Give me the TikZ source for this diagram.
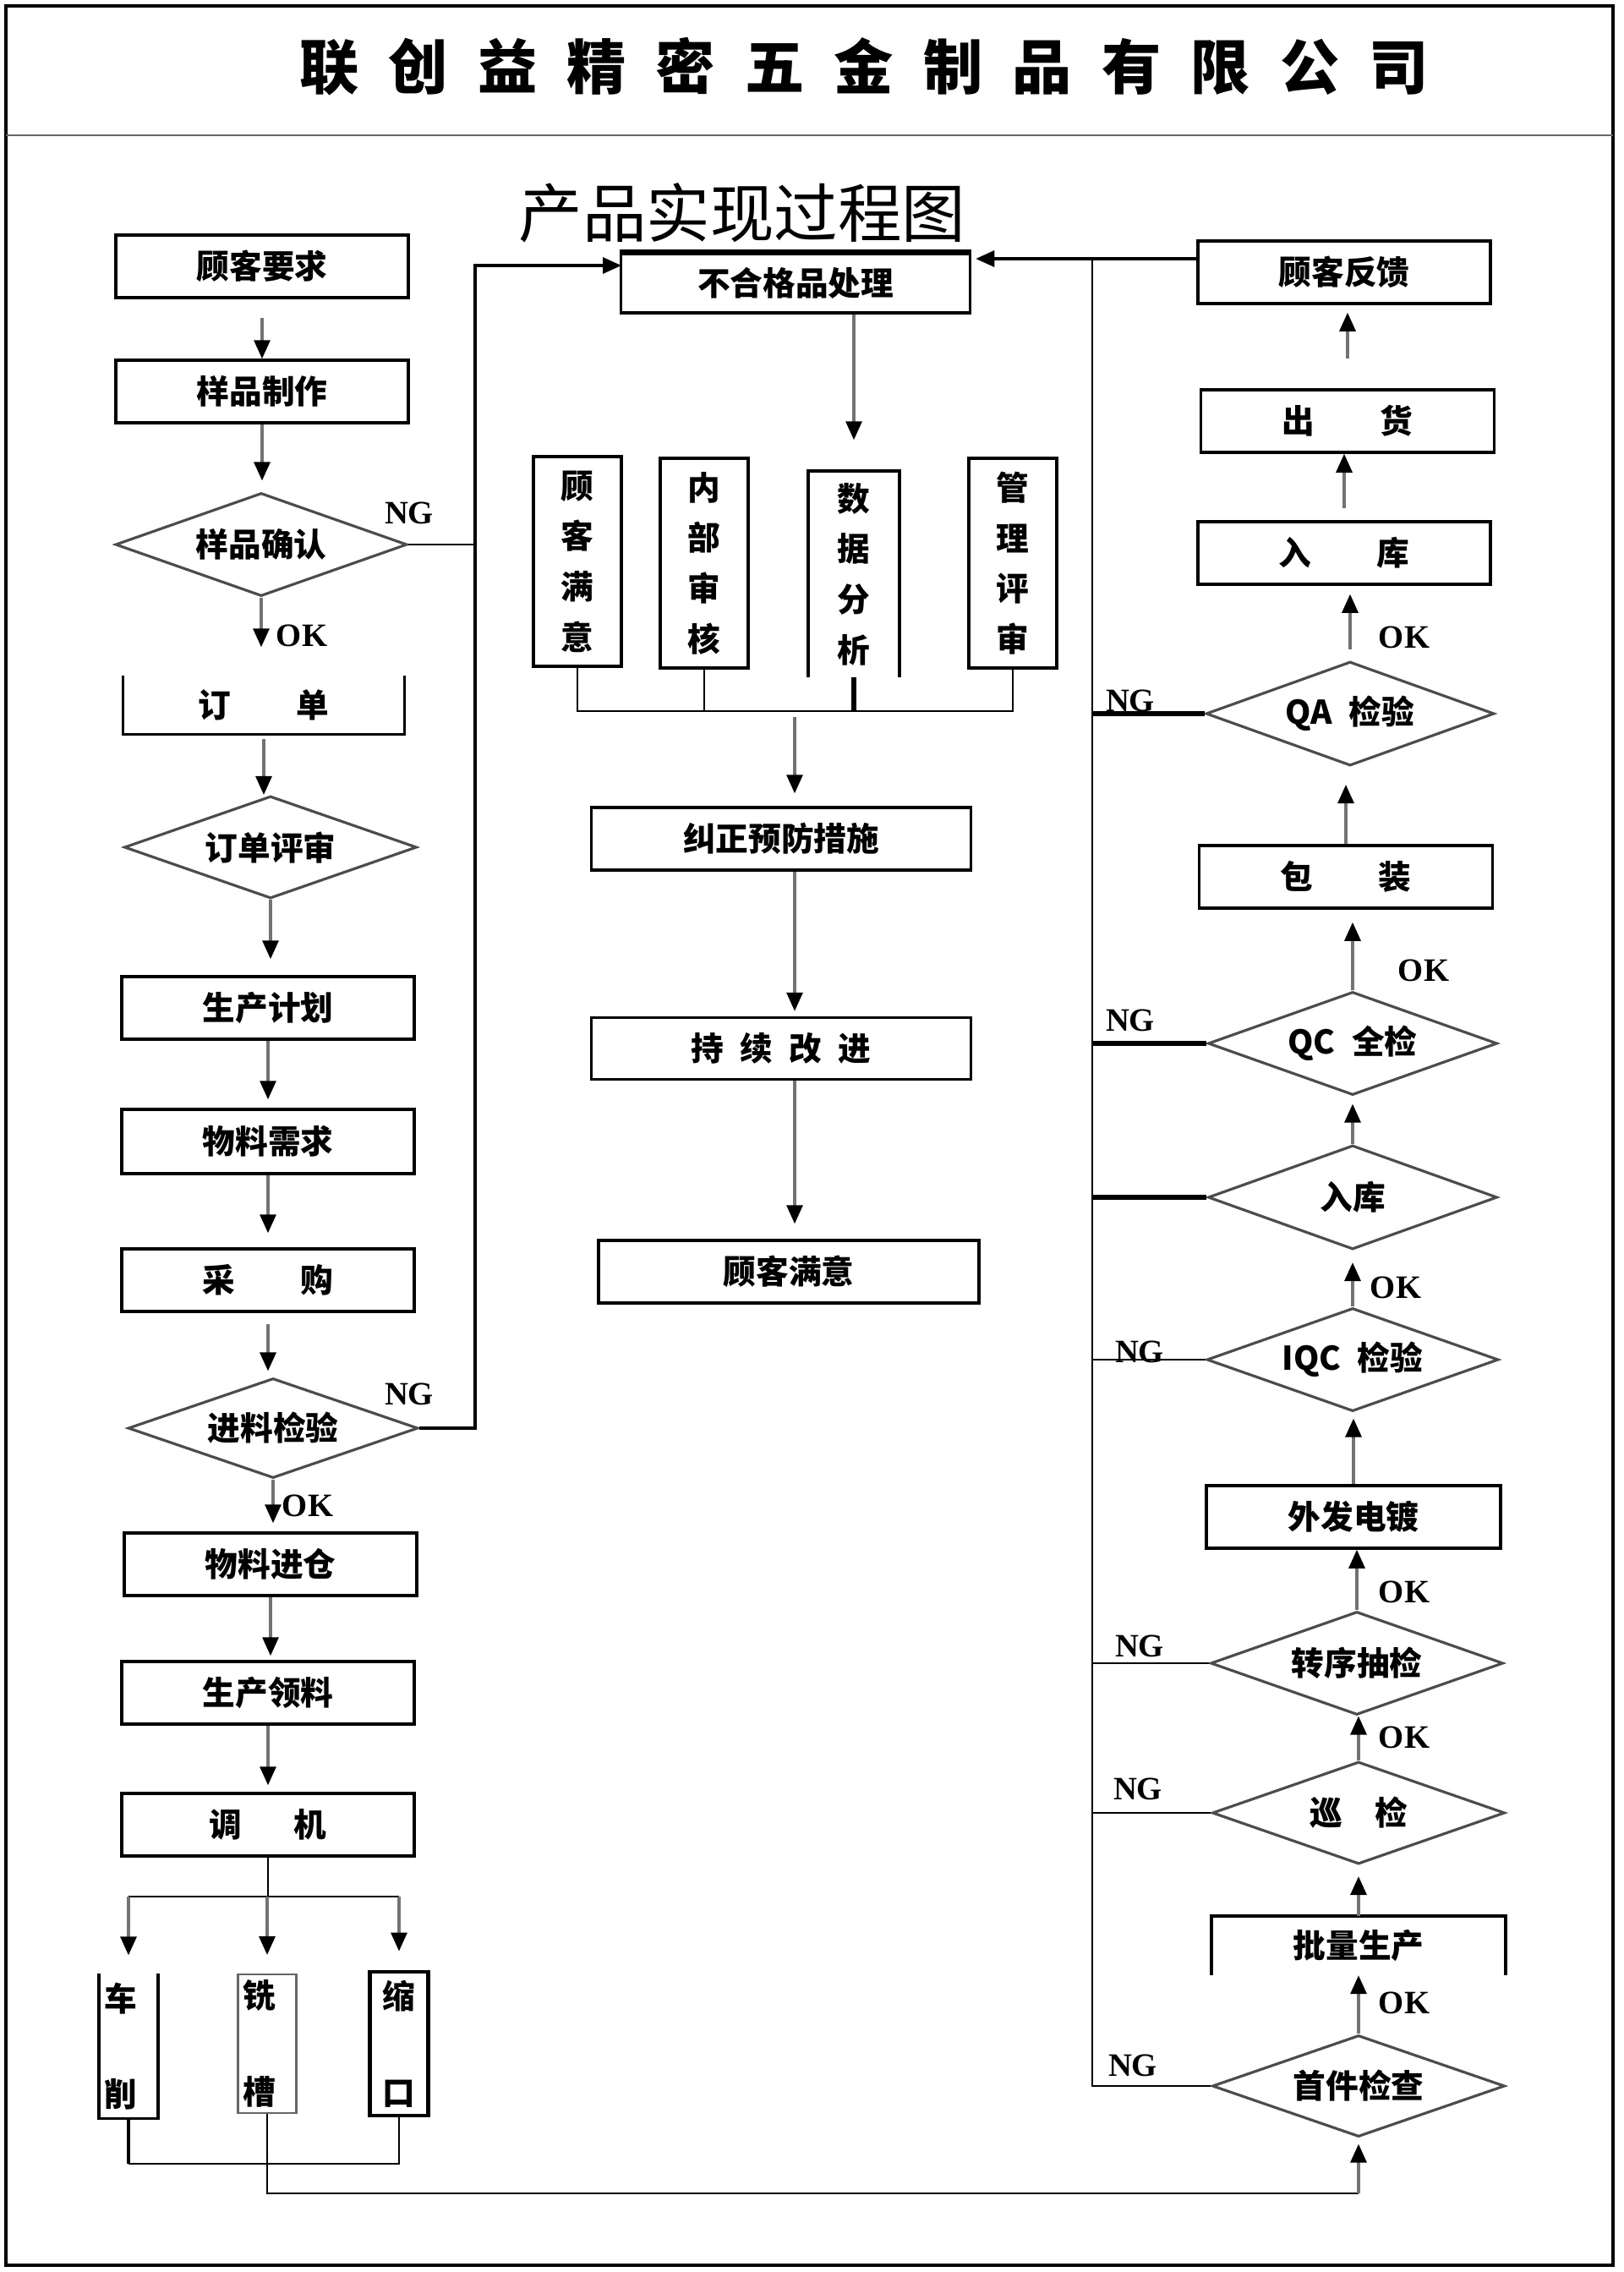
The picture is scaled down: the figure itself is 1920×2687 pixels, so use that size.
\documentclass[tikz,border=0pt]{standalone}
\usepackage{fontspec}
\setmainfont{Liberation Serif}
\newfontfamily\cjk{Noto Sans CJK SC}[BoldFont={Noto Sans CJK SC Black}]
\usetikzlibrary{shapes.geometric,arrows.meta}
\newcommand{\wgap}[1][.5em]{\hspace{#1}}

\begin{document}
\begin{tikzpicture}[x=0.1mm, y=-0.1mm,
    every node/.style={font=\cjk\bfseries\fontsize{11}{13}\selectfont, inner sep=0pt},
    box/.style={draw, line width=1pt, minimum width=34.6mm, minimum height=7.4mm},
    dia/.style={diamond, aspect=2.8, draw=black!70, line width=0.9pt, minimum width=34.5mm, minimum height=12.2mm},
    vbox/.style={draw, line width=1pt, minimum width=10.4mm, minimum height=24.8mm, align=center, font=\cjk\bfseries\fontsize{11}{17}\selectfont},
    tool/.style={minimum height=17mm, text width=5.8mm, inner xsep=0.55mm, align=left, font=\cjk\bfseries\fontsize{11}{32.4}\selectfont},
    arr/.style={draw=black!55, line width=0.9pt, -{Triangle[width=1.9mm, length=2.2mm, color=black]}},
    arrk/.style={arr, draw=black},
    lnk/.style={line width=0.7pt},
    ngk/.style={line width=1.5pt},
    tag/.style={font=\rmfamily\bfseries\fontsize{11}{13}\selectfont}]
  \useasboundingbox (0,0) rectangle (1920,2687);
  \draw[line width=1.2pt] (7,7) rectangle (1908,2679);
  \draw[line width=0.6pt, black!60] (7,160) -- (1908,160);
  \node[font=\cjk\bfseries\fontsize{20}{24}\selectfont] (firm) at (1022,79) {联\wgap 创\wgap 益\wgap 精\wgap 密\wgap 五\wgap 金\wgap 制\wgap 品\wgap 有\wgap 限\wgap 公\wgap 司};
  \node[font=\cjk\fontsize{21.5}{26}\selectfont] (title) at (878,252) {产品实现过程图};

  \node[box] (req) at (310,315) {顾客要求};
  \node[box] (smp) at (310,463) {样品制作};
  \node[dia] (cfm) at (309,644) {样品确认};
  \node[minimum width=33.2mm, minimum height=6.8mm] (ord) at (312,834) {订\wgap[2em]单};
  \draw[line width=1pt] (ord.north west) |- (ord.south east) -- (ord.north east);
  \node[dia, minimum width=34.6mm, minimum height=12.1mm] (rev) at (320,1002) {订单评审};
  \node[box] (plan) at (317,1192) {生产计划};
  \node[box, minimum height=7.6mm] (mrq) at (317,1350) {物料需求};
  \node[box] (buy) at (317,1514) {采\wgap[2em]购};
  \node[dia, minimum width=34.3mm, minimum height=11.8mm] (inc) at (323,1689) {进料检验};
  \node[box] (whs) at (320,1850) {物料进仓};
  \node[box] (pick) at (317,2002) {生产领料};
  \node[box] (tune) at (317,2158) {调\wgap[1.6em]机};
  \node[tool] (turn) at (152,2420) {车\\削};
  \draw[line width=1pt] (turn.north west) |- (turn.south east) -- (turn.north east);
  \node[tool, draw=black!60, line width=0.6pt, minimum height=16.4mm] (mill) at (316,2417) {铣\\槽};
  \node[tool, draw, line width=1.4pt, align=center] (neck) at (472,2417) {缩\\口};

  \draw[arr, shorten <=2.2mm] (req.south) -- (req.south |- smp.north);
  \draw[arr, shorten >=1.3mm] (smp.south) -- (smp.south |- cfm.north);
  \draw[arr, shorten >=3.4mm] (cfm.south) -- (cfm.south |- ord.north);
  \draw[arr, shorten <=0.5mm] (ord.south) -- (ord.south |- rev.north);
  \draw[arr, shorten >=1.9mm] (rev.south) -- (rev.south |- plan.north);
  \draw[arr, shorten >=1mm] (plan.south) -- (plan.south |- mrq.north);
  \draw[arr, shorten >=1.7mm] (mrq.south) -- (mrq.south |- buy.north);
  \draw[arr, shorten <=1.3mm, shorten >=0.7mm] (buy.south) -- (buy.south |- inc.north);
  \draw[arr, shorten >=1mm] (inc.south) -- (inc.south |- whs.north);
  \draw[arr, shorten >=0.5mm] (whs.south) -- (whs.south |- pick.north);
  \draw[arr, shorten >=0.8mm] (pick.south) -- (pick.south |- tune.north);
  \draw[lnk] (tune.south) -- ++(0,46) coordinate (fork);
  \draw[lnk] (turn.north |- fork) -- (neck.north |- fork);
  \foreach \n in {turn,mill,neck}
    \draw[arr, shorten >=2.2mm] (\n.north |- fork) -- (\n.north);
  \draw[line width=1.4pt] (turn.south) -- ++(0,53) coordinate (join);
  \draw[lnk] (join) -| (neck.south);
  \coordinate (base) at (1607,2594);
  \draw[lnk] (mill.south) |- (base);

  \coordinate (lp) at (562,314);
  \draw[arrk] (inc.east) -| (lp) -- (lp -| 735,0);
  \draw[lnk] (cfm.east) -- (cfm.east -| lp);
  \node[tag] (ng1) at (484,607) {NG};
  \node[tag] (ng2) at (484,1649) {NG};
  \node[tag] (ok1) at (357,752) {OK};
  \node[tag] (ok2) at (364,1781) {OK};

  \node[box, minimum width=41.3mm, minimum height=7mm] (ncp) at (941,335) {不合格品处理};
  \draw[line width=2pt] (ncp.north west) -- (ncp.north east);
  \node[vbox] (csat) at (683,664) {顾\\客\\满\\意};
  \node[vbox] (audit) at (833,666) {内\\部\\审\\核};
  \node[vbox, draw=none, minimum height=24mm] (data) at (1010,679) {数\\据\\分\\析};
  \draw[line width=1pt] (data.south west) |- (data.north east) -- (data.south east);
  \node[vbox] (mgmt) at (1198,666) {管\\理\\评\\审};
  \draw[arr, shorten >=3.7mm] (ncp.south -| data) -- (data.north);
  \coordinate (bus) at (940,841);
  \draw[lnk] (csat.south) -- (csat.south |- bus) -- (mgmt.south |- bus) -- (mgmt.south);
  \draw[lnk] (audit.south) -- (audit.south |- bus);
  \draw[line width=1.5pt] (data.south) -- (data.south |- bus);
  \node[box, minimum width=44.9mm] (cap) at (924,992) {纠正预防措施};
  \node[box, minimum width=44.9mm, minimum height=7.3mm] (imp) at (924,1240) {持\wgap 续\wgap 改\wgap 进};
  \node[box, minimum width=45mm] (sat) at (933,1504) {顾客满意};
  \draw[arr, shorten <=0.7mm, shorten >=1.5mm] (bus) -- (bus |- cap.north);
  \draw[arr, shorten >=0.6mm] (cap.south -| bus) -- (imp.north -| bus);
  \draw[arr, shorten >=1.8mm] (imp.south -| bus) -- (sat.north -| bus);

  \node[box] (fbk) at (1590,322) {顾客反馈};
  \node[box, minimum width=34.7mm] (ship) at (1594,498) {出\wgap[2em]货};
  \node[box] (store) at (1590,654) {入\wgap[2em]库};
  \node[dia, minimum width=34.1mm, minimum height=12.3mm] (qa) at (1597,844) {QA\wgap 检验};
  \node[box, minimum width=34.7mm] (pack) at (1592,1037) {包\wgap[2em]装};
  \node[dia, minimum width=34.2mm] (qc) at (1600,1234) {QC\wgap 全检};
  \node[dia, minimum width=34.2mm, minimum height=12.3mm] (stock) at (1600,1416) {入库};
  \node[dia] (iqc) at (1600,1608) {IQC\wgap 检验};
  \node[box, minimum width=34.8mm] (plate) at (1601,1794) {外发电镀};
  \node[dia, minimum width=34.6mm] (xfer) at (1605,1967) {转序抽检};
  \node[dia, minimum width=34.6mm, minimum height=12.1mm] (patrol) at (1607,2144) {巡\wgap[1em]检};
  \node[minimum width=34.6mm, minimum height=6.9mm] (mass) at (1607,2301) {批量生产};
  \draw[line width=1.2pt] (mass.south west) |- (mass.north east) -- (mass.south east);
  \node[dia, minimum width=34.6mm, minimum height=12mm] (fai) at (1607,2467) {首件检查};

  \draw[arr, shorten <=3.5mm, shorten >=0.9mm] (ship.north) -- (ship.north |- fbk.south);
  \draw[arr, shorten <=1.4mm] (store.north) -- (store.north |- ship.south);
  \draw[arr, shorten <=1.3mm, shorten >=1mm] (qa.north) -- (qa.north |- store.south);
  \draw[arr, shorten >=2.1mm] (pack.north) -- (pack.north |- qa.south);
  \draw[arr, shorten >=1.5mm] (qc.north) -- (qc.north |- pack.south);
  \draw[arr, shorten >=0.9mm] (stock.north) -- (stock.north |- qc.south);
  \draw[arr, shorten >=1.4mm] (iqc.north) -- (iqc.north |- stock.south);
  \draw[arr, shorten >=0.7mm] (plate.north) -- (plate.north |- iqc.south);
  \draw[arr] (xfer.north) -- (xfer.north |- plate.south);
  \draw[arr] (patrol.north) -- (patrol.north |- xfer.south);
  \draw[arr, shorten >=1.3mm] (mass.north) -- (mass.north |- patrol.south);
  \draw[arr] (fai.north) -- (fai.north |- mass.south);
  \draw[arr, shorten >=0.7mm] (base) -- (fai.south);

  \coordinate (rp) at (1292,306);
  \draw[arrk, shorten >=0.5mm] ([yshift=1.6mm]fbk.west) -- ([yshift=1.6mm]fbk.west -| ncp.east);
  \draw[lnk] (fai.west) -| (rp);
  \draw[ngk] (qa.west) -- (qa.west -| rp);
  \draw[ngk] (qc.west) -- (qc.west -| rp);
  \draw[ngk] (stock.west) -- (stock.west -| rp);
  \draw[lnk] (iqc.west) -- (iqc.west -| rp);
  \draw[lnk] (xfer.west) -- (xfer.west -| rp);
  \draw[lnk] (patrol.west) -- (patrol.west -| rp);
  \node[tag] (ng3) at (1337,829) {NG};
  \node[tag] (ng4) at (1337,1207) {NG};
  \node[tag] (ng5) at (1348,1599) {NG};
  \node[tag] (ng6) at (1348,1947) {NG};
  \node[tag] (ng7) at (1346,2116) {NG};
  \node[tag] (ng8) at (1340,2443) {NG};
  \node[tag] (ok3) at (1661,754) {OK};
  \node[tag] (ok4) at (1684,1148) {OK};
  \node[tag] (ok5) at (1651,1523) {OK};
  \node[tag] (ok6) at (1661,1883) {OK};
  \node[tag] (ok7) at (1661,2055) {OK};
  \node[tag] (ok8) at (1661,2369) {OK};
\end{tikzpicture}
\end{document}
